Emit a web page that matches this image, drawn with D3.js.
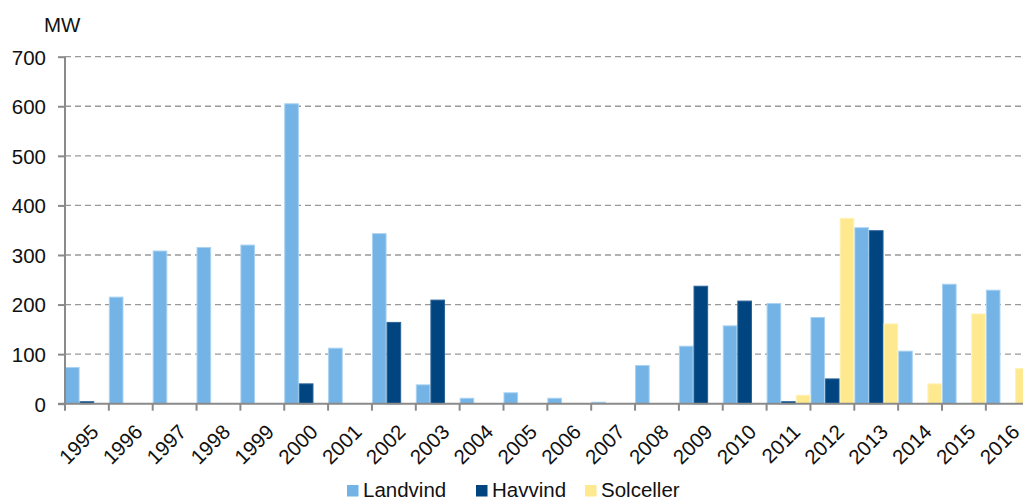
<!DOCTYPE html>
<html><head><meta charset="utf-8">
<script src="https://cdn.jsdelivr.net/npm/d3@7"></script>
<style>
html,body{margin:0;padding:0;background:#fff;overflow:hidden}
svg{display:block;font-family:"Liberation Sans",Arial,sans-serif}
</style></head>
<body><svg id="c" width="1023" height="498"></svg>
<script>
const years = ["1995","1996","1997","1998","1999","2000","2001","2002","2003","2004","2005","2006","2007","2008","2009","2010","2011","2012","2013","2014","2015","2016"];
const seriesNames = ["Landvind","Havvind","Solceller"];
const landvind  = [73,215,308,315,320,605,112,343,38,11,22,11,3,77,116,157,202,174,355,106,241,229];
const havvind   = [4,0,0,0,0,40,0,164,209,0,0,0,0,0,237,207,4,50,349,0,0,0];
const solceller = [0,0,0,0,0,0,0,0,0,0,0,0,0,0,0,0,17,374,161,40,181,71];
const yTicks = [0,100,200,300,400,500,600,700];
const colors = ["#73b3e5","#00457f","#ffe98e"];
const strokes = ["#a9d2f2","#2a6399","#fff2b8"];

const svg = d3.select("#c");
const x0 = 65, yBase = 403.7, yTop = 56.7;
const x = d3.scaleBand().domain(years).range([x0, x0 + 22*43.85]).padding(0);
const xs = d3.scaleBand().domain(seriesNames).range([0, x.bandwidth()]).padding(0);
const y = d3.scaleLinear().domain([0,700]).range([yBase, yTop]);

// gridlines
svg.append("g").selectAll("line").data(yTicks.filter(d=>d>0)).join("line")
  .attr("x1", x0).attr("x2", 1023)
  .attr("y1", d=>y(d)).attr("y2", d=>y(d))
  .attr("stroke", "#999").attr("stroke-width", 1.3).attr("stroke-dasharray", "6,4");

// bars
const data = [landvind, havvind, solceller];
seriesNames.forEach((s, si) => {
  svg.append("g").selectAll("rect").data(years.map((yr,i)=>({yr, v:data[si][i]})).filter(d=>d.v>0)).join("rect")
    .attr("x", d=>x(d.yr)+xs(s)+0.5)
    .attr("width", xs.bandwidth()-1)
    .attr("y", d=>y(d.v))
    .attr("height", d=>yBase - y(d.v))
    .attr("fill", colors[si])
    .attr("stroke", strokes[si]).attr("stroke-width", 1);
});

// y axis
const yAxis = d3.axisLeft(y).tickValues(yTicks).tickSize(7).tickPadding(12).tickFormat(d3.format("d"));
const ga = svg.append("g").attr("transform", `translate(${x0},0)`).call(yAxis);
ga.select(".domain").attr("stroke", "#8a8a8a").attr("stroke-width", 2).attr("d", `M0,${yTop}V${yBase}`);
ga.selectAll(".tick line").attr("stroke", "#8a8a8a").attr("stroke-width", 2);
ga.selectAll(".tick text").attr("font-size", 20.5).attr("fill", "#111").attr("dy", "0.36em");

// x axis
const xAxis = d3.axisBottom(x).tickSize(0).tickFormat("");
const gx = svg.append("g").attr("transform", `translate(0,${yBase})`).call(xAxis);
gx.select(".domain").attr("stroke", "#8a8a8a").attr("stroke-width", 2).attr("d", `M${x0-7},0H1023`);
gx.selectAll(".tick").remove();
// boundary ticks
svg.append("g").selectAll("line").data(years).join("line")
  .attr("x1", d=>x(d)).attr("x2", d=>x(d))
  .attr("y1", yBase).attr("y2", yBase+7)
  .attr("stroke", "#8a8a8a").attr("stroke-width", 2);
// labels
svg.append("g").selectAll("text").data(years).join("text")
  .attr("transform", d=>`translate(${x(d)+x.bandwidth()/2+13},${yBase+29.5}) rotate(-45)`)
  .attr("text-anchor", "end")
  .attr("font-size", 20.5).attr("fill", "#111").text(d=>d);

// MW label
svg.append("text").attr("x", 44).attr("y", 31.5).attr("font-size", 20.5).attr("fill", "#111").text("MW");

// legend
const legX = [347, 476, 585];
seriesNames.forEach((s, i) => {
  const g = svg.append("g");
  g.append("rect").attr("x", legX[i]).attr("y", 485).attr("width", 11.5).attr("height", 11.5).attr("fill", colors[i]);
  g.append("text").attr("x", legX[i]+16).attr("y", 496.5).attr("font-size", 20.5).attr("fill", "#111").text(s);
});
</script></body></html>
